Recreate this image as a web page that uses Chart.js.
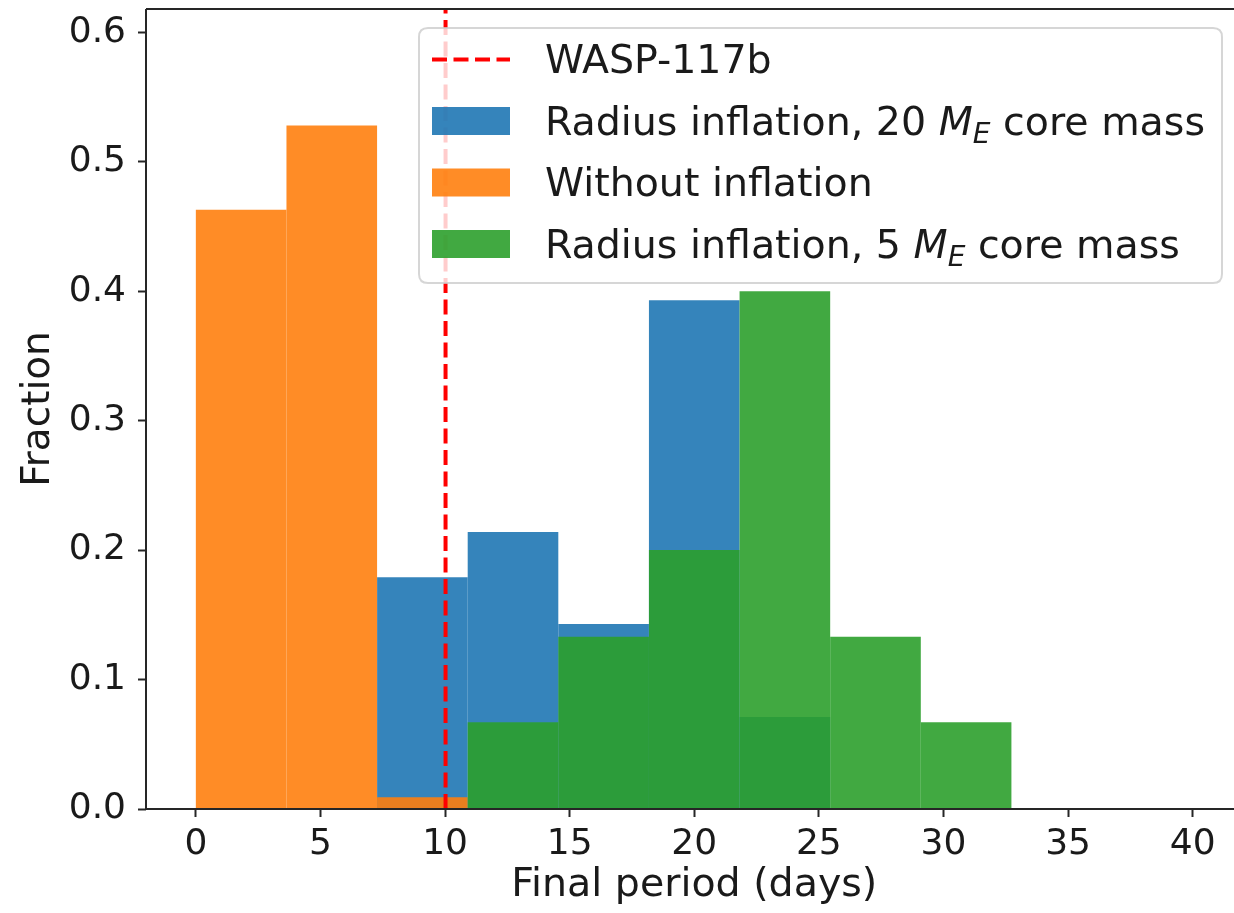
<!DOCTYPE html>
<html><head><meta charset="utf-8">
<script src="https://cdn.jsdelivr.net/npm/chart.js@4.4.1/dist/chart.umd.min.js"></script>
<style>html,body{margin:0;padding:0;background:#fff;overflow:hidden;width:1234px;height:913px}
canvas{display:block}</style></head><body>
<canvas id="c" width="1250" height="913" style="width:1250px;height:913px"></canvas>
<script>
// ---- data ----
const binEdges = [0, 3.636, 7.273, 10.909, 14.545, 18.182, 21.818, 25.455, 29.091, 32.727, 36.364, 40];
const inflation20 = [0, 0, 0.179, 0.214, 0.143, 0.393, 0.071, 0, 0, 0, 0];
const noInflation = [0.463, 0.528, 0.009, 0, 0, 0, 0, 0, 0, 0, 0];
const inflation5 = [0, 0, 0, 0.067, 0.133, 0.200, 0.400, 0.133, 0.067, 0, 0];
const waspPeriod = 10.02;
const xTicks = [0, 5, 10, 15, 20, 25, 30, 35, 40];
const yTicks = [0, 0.1, 0.2, 0.3, 0.4, 0.5, 0.6];
const xRange = [-2, 42];
const yRange = [0, 0.618];
const labels = {
  wasp: 'WASP-117b',
  inf20: ['Radius inflation, 20 ', 'M', 'E', ' core mass'],
  noinf: 'Without inflation',
  inf5: ['Radius inflation, 5 ', 'M', 'E', ' core mass'],
  x: 'Final period (days)',
  y: 'Fraction'
};

const FONT = 'DejaVu Sans';
const TEXT = '#1a1a1a';
const BLUE = 'rgba(31,119,180,0.9)', ORANGE = 'rgba(255,127,14,0.9)', GREEN = 'rgba(44,160,44,0.9)';

function toBars(vals) {
  return vals.map((v, i) => ({ x: (binEdges[i] + binEdges[i + 1]) / 2, y: v }));
}

const overlay = {
  id: 'overlay',
  afterDraw(chart) {
    const ctx = chart.ctx, a = chart.chartArea;
    ctx.save();
    // spines
    ctx.strokeStyle = '#262626'; ctx.lineWidth = 2;
    ctx.beginPath();
    ctx.moveTo(a.left, a.bottom); ctx.lineTo(a.right, a.bottom);
    ctx.moveTo(a.left, a.bottom); ctx.lineTo(a.left, a.top);
    ctx.moveTo(a.left, a.top); ctx.lineTo(a.right, a.top);
    ctx.moveTo(a.right, a.top); ctx.lineTo(a.right, a.bottom);
    ctx.stroke();

    // legend
    const L = 419, T = 28, W = 803, H = 255, r = 9;
    ctx.beginPath();
    ctx.moveTo(L + r, T); ctx.lineTo(L + W - r, T); ctx.quadraticCurveTo(L + W, T, L + W, T + r);
    ctx.lineTo(L + W, T + H - r); ctx.quadraticCurveTo(L + W, T + H, L + W - r, T + H);
    ctx.lineTo(L + r, T + H); ctx.quadraticCurveTo(L, T + H, L, T + H - r);
    ctx.lineTo(L, T + r); ctx.quadraticCurveTo(L, T, L + r, T);
    ctx.closePath();
    ctx.fillStyle = 'rgba(255,255,255,0.8)'; ctx.fill();
    ctx.strokeStyle = 'rgba(204,204,204,0.8)'; ctx.lineWidth = 2; ctx.stroke();

    const rows = [59.5, 121, 182.5, 244];
    const hx0 = 432, hx1 = 510, tx = 545, fs = 39.5;
    // row 0: dashed line
    ctx.strokeStyle = '#ff0000'; ctx.lineWidth = 4; ctx.setLineDash([15, 6.5]);
    ctx.beginPath(); ctx.moveTo(hx0, rows[0]); ctx.lineTo(hx1, rows[0]); ctx.stroke();
    ctx.setLineDash([]);
    const cols = [BLUE, ORANGE, GREEN];
    for (let i = 0; i < 3; i++) {
      ctx.fillStyle = cols[i];
      ctx.fillRect(hx0, rows[i + 1] - 14, hx1 - hx0, 28);
    }
    ctx.fillStyle = TEXT; ctx.textBaseline = 'alphabetic'; ctx.textAlign = 'left';
    const base = y => y + 13.5;
    ctx.font = fs + 'px "' + FONT + '"';
    ctx.fillText(labels.wasp, tx, base(rows[0]));
    ctx.fillText(labels.noinf, tx, base(rows[2]));
    function mathLine(parts, y) {
      let x = tx;
      ctx.font = fs + 'px "' + FONT + '"';
      ctx.fillText(parts[0], x, y); x += ctx.measureText(parts[0]).width;
      ctx.font = 'italic ' + fs + 'px "' + FONT + '"';
      ctx.fillText(parts[1], x, y); x += ctx.measureText(parts[1]).width;
      ctx.font = 'italic ' + Math.round(fs * 0.7) + 'px "' + FONT + '"';
      ctx.fillText(parts[2], x, y + 8); x += ctx.measureText(parts[2]).width;
      ctx.font = fs + 'px "' + FONT + '"';
      ctx.fillText(parts[3], x, y);
    }
    mathLine(labels.inf20, base(rows[1]));
    mathLine(labels.inf5, base(rows[3]));
    ctx.restore();
  }
};

new Chart(document.getElementById('c'), {
  type: 'bar',
  data: {
    datasets: [
      { type: 'line', label: labels.wasp, data: [{ x: waspPeriod, y: yRange[0] }, { x: waspPeriod, y: yRange[1] }],
        borderColor: '#ff0000', borderWidth: 4, borderDash: [15, 6.5], pointRadius: 0, order: 0, fill: false },
      { label: 'inf20', data: toBars(inflation20), backgroundColor: BLUE, order: 3 },
      { label: 'noinf', data: toBars(noInflation), backgroundColor: ORANGE, order: 2 },
      { label: 'inf5', data: toBars(inflation5), backgroundColor: GREEN, order: 1 }
    ]
  },
  options: {
    responsive: false,
    animation: false,
    events: [],
    layout: { padding: { left: 0, top: 9, right: 7.5, bottom: 0 } },
    datasets: { bar: { barPercentage: 1, categoryPercentage: 1, grouped: false, borderWidth: 0, inflateAmount: 0 } },
    plugins: { legend: { display: false }, tooltip: { enabled: false } },
    scales: {
      x: {
        type: 'linear', min: xRange[0], max: xRange[1], offset: false,
        afterBuildTicks: s => { s.ticks = xTicks.map(v => ({ value: v })); },
        afterFit: s => { s.height = 104; s.paddingLeft = 0; s.paddingRight = 0; },
        ticks: { font: { family: FONT, size: 36 }, color: TEXT, padding: 6, maxRotation: 0, autoSkip: false, callback: v => String(v) },
        grid: { offset: false, drawOnChartArea: false, drawTicks: true, tickLength: 8, tickWidth: 2, tickColor: '#262626' },
        border: { display: false },
        title: { display: true, text: labels.x, font: { family: FONT, size: 39.5 }, color: TEXT, padding: { top: 0, bottom: 4 } }
      },
      y: {
        min: yRange[0], max: yRange[1],
        afterBuildTicks: s => { s.ticks = yTicks.map(v => ({ value: v })); },
        afterFit: s => { s.width = 146; s.paddingTop = 0; s.paddingBottom = 0; },
        ticks: { font: { family: FONT, size: 36 }, color: TEXT, padding: 12, callback: v => v.toFixed(1) },
        grid: { drawOnChartArea: false, drawTicks: true, tickLength: 8, tickWidth: 2, tickColor: '#262626' },
        border: { display: false },
        title: { display: true, text: labels.y, font: { family: FONT, size: 39 }, color: TEXT, padding: { top: 15, bottom: 0 } }
      }
    }
  },
  plugins: [overlay]
});
</script></body></html>
